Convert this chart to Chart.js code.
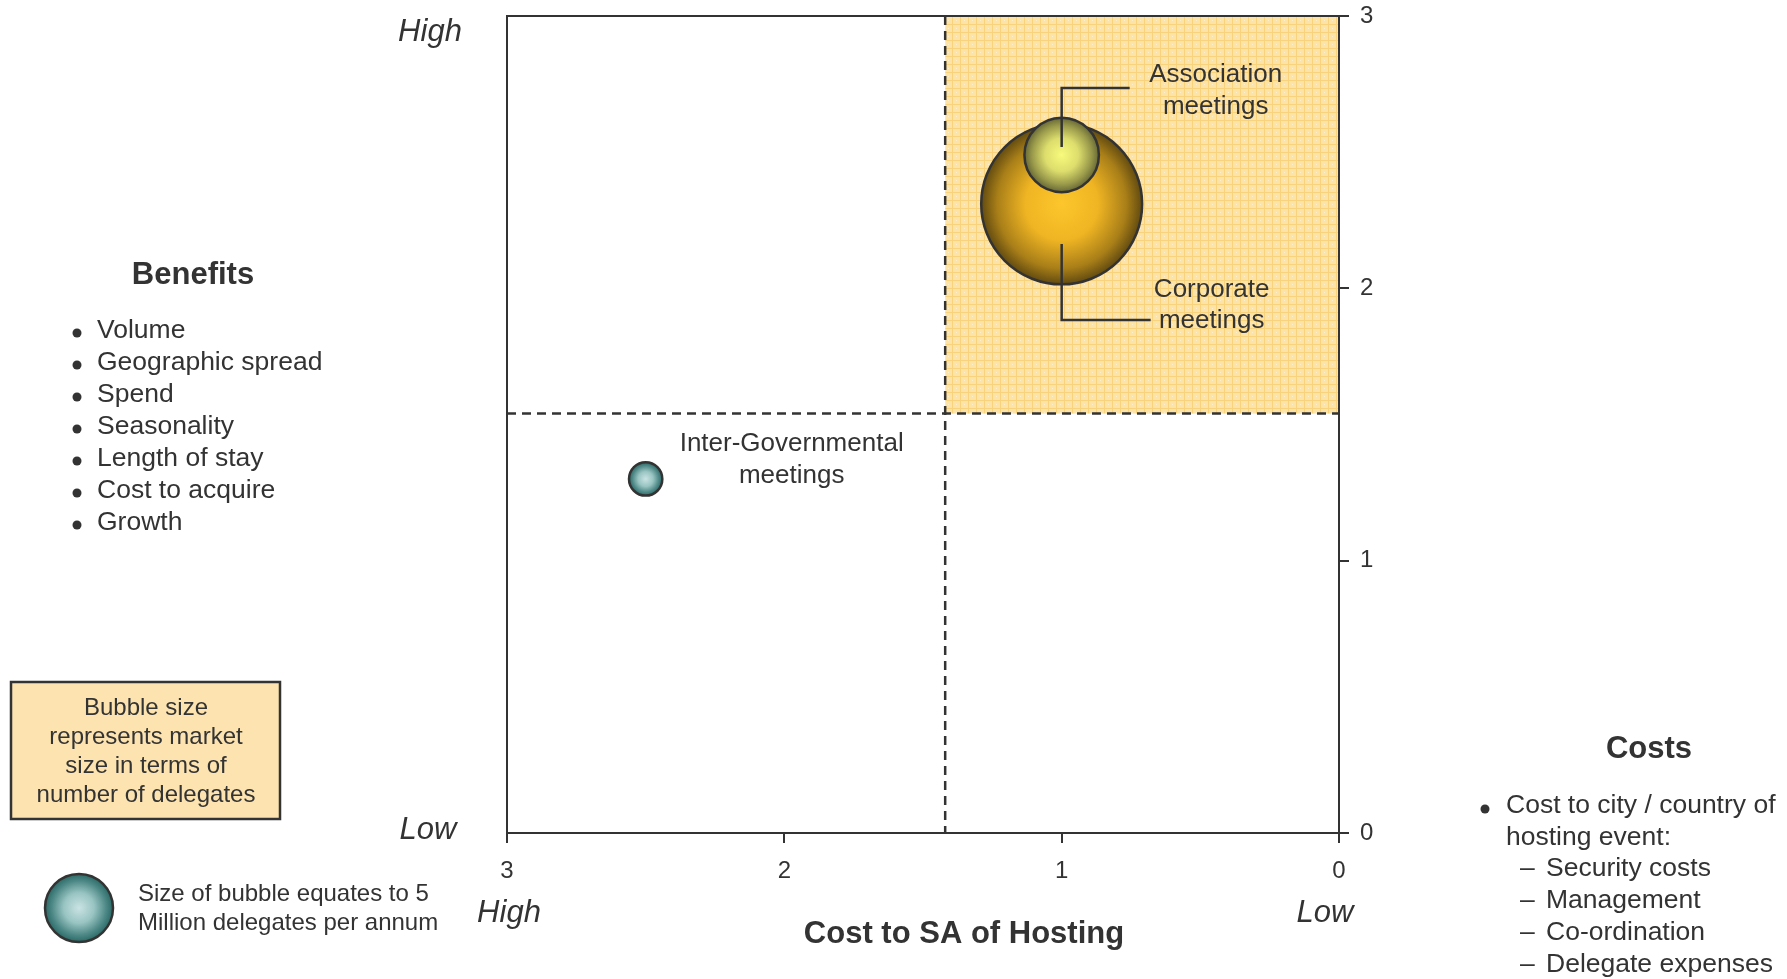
<!DOCTYPE html>
<html>
<head>
<meta charset="utf-8">
<script src="https://cdn.jsdelivr.net/npm/chart.js@4.4.1/dist/chart.umd.min.js"></script>
<style>
  body { margin: 0; background: #fff; }
  canvas { display: block; }
</style>
</head>
<body>
<canvas id="matrixChart" width="1787" height="979"></canvas>
<script>
// market segments, cost (x, reversed) and benefit (y) scores, size in million delegates
const segments = ['Corporate meetings', 'Association meetings', 'Inter-Governmental meetings'];
const costScores = [1.0, 1.0, 2.5];
const benefitScores = [2.31, 2.49, 1.30];
const delegatesMillions = [28, 6, 1.2];

const xTicks = [0, 1, 2, 3];
const yTicks = [0, 1, 2, 3];
const costSplit = 1.42;     // dashed vertical divider
const benefitSplit = 1.54;  // dashed horizontal divider
const legendMillions = 5;

const benefitsList = ['Volume', 'Geographic spread', 'Spend', 'Seasonality', 'Length of stay', 'Cost to acquire', 'Growth'];
const costsHead = ['Cost to city / country of', 'hosting event:'];
const costsSub = ['Security costs', 'Management', 'Co-ordination', 'Delegate expenses'];
const boxLines = ['Bubble size', 'represents market', 'size in terms of', 'number of delegates'];
const legendLines = ['Size of bubble equates to 5', 'Million delegates per annum'];

const FONT = '"Liberation Sans", Arial, sans-serif';
const INK = '#333333';
const LEGEND_R = 34; // pixel radius of the 5 million legend bubble

// big bubbles would otherwise push the chart area down (auto overflow padding)
Chart.registry.getController('bubble').prototype.getMaxOverflow = function () { return 0; };

function radiusFor(m) {
    return LEGEND_R * Math.sqrt(m / legendMillions);
}

const points = segments.map((s, i) => ({
    x: costScores[i],
    y: benefitScores[i],
    r: radiusFor(delegatesMillions[i])
}));

const gradStops = [
    [[0, '#fcc62c'], [0.45, '#f0b523'], [0.8, '#a97f18'], [1, '#624b10']],   // corporate
    [[0, '#f8fa7c'], [0.45, '#dcdd6c'], [0.8, '#98984a'], [1, '#666735']],   // association
    [[0, '#cae3e3'], [0.45, '#98c4c2'], [0.8, '#4d8886'], [1, '#2a6a67']]    // inter-gov
];
const tealStops = gradStops[2];

function makeGradient(ctx, cx, cy, r, stops) {
    const g = ctx.createRadialGradient(cx, cy, 0, cx, cy, r);
    stops.forEach(s => g.addColorStop(s[0], s[1]));
    return g;
}

function bubbleFill(context) {
    const chart = context.chart;
    const stops = gradStops[context.dataIndex] || tealStops;
    if (!chart.chartArea || !context.raw) return stops[1][1];
    const cx = chart.scales.x.getPixelForValue(context.raw.x);
    const cy = chart.scales.y.getPixelForValue(context.raw.y);
    return makeGradient(chart.ctx, cx, cy, context.raw.r, stops);
}

function makePattern() {
    const c = document.createElement('canvas');
    c.width = 8; c.height = 8;
    const p = c.getContext('2d');
    p.fillStyle = '#fde3a6';
    p.fillRect(0, 0, 8, 8);
    p.fillStyle = '#f8d27c';
    p.fillRect(0, 0, 8, 1);
    p.fillRect(0, 0, 1, 8);
    p.fillStyle = '#fff0cc';
    p.fillRect(4, 4, 1, 1);
    return p.createPattern(c, 'repeat');
}

const backdrop = {
    id: 'backdrop',
    beforeDatasetsDraw(chart) {
        const { ctx, chartArea: a, scales: { x, y } } = chart;
        const sx = x.getPixelForValue(costSplit);
        const sy = y.getPixelForValue(benefitSplit);
        ctx.save();
        ctx.fillStyle = makePattern();
        ctx.fillRect(sx, a.top, a.right - sx, sy - a.top);

        ctx.strokeStyle = INK;
        ctx.lineWidth = 2;
        ctx.strokeRect(a.left, a.top, a.right - a.left, a.bottom - a.top);

        ctx.setLineDash([9, 6]);
        ctx.lineWidth = 2.5;
        ctx.beginPath();
        ctx.moveTo(sx, a.top);
        ctx.lineTo(sx, a.bottom);
        ctx.moveTo(a.left, sy);
        ctx.lineTo(a.right, sy);
        ctx.stroke();
        ctx.restore();
    }
};

function centerText(ctx, lines, cx, ys) {
    ctx.textAlign = 'center';
    lines.forEach((t, i) => ctx.fillText(t, cx, ys[i]));
}

const annotations = {
    id: 'annotations',
    afterDatasetsDraw(chart) {
        const { ctx, scales: { x, y } } = chart;
        const px = i => x.getPixelForValue(costScores[i]);
        const py = i => y.getPixelForValue(benefitScores[i]);
        ctx.save();
        ctx.strokeStyle = INK;
        ctx.lineWidth = 2.5;
        ctx.fillStyle = INK;
        ctx.textBaseline = 'middle';
        ctx.font = '26px ' + FONT;

        // association meetings
        let cx = px(1), cy = py(1);
        ctx.beginPath();
        ctx.moveTo(cx, cy - 8);
        ctx.lineTo(cx, cy - 67);
        ctx.lineTo(cx + 68, cy - 67);
        ctx.stroke();
        centerText(ctx, ['Association', 'meetings'], cx + 154, [cy - 80, cy - 48]);

        // corporate meetings
        cx = px(0); cy = py(0);
        ctx.beginPath();
        ctx.moveTo(cx, cy + 40);
        ctx.lineTo(cx, cy + 116);
        ctx.lineTo(cx + 89, cy + 116);
        ctx.stroke();
        centerText(ctx, ['Corporate', 'meetings'], cx + 150, [cy + 86, cy + 117]);

        // inter-governmental
        cx = px(2); cy = py(2);
        centerText(ctx, ['Inter-Governmental', 'meetings'], cx + 146, [cy - 35, cy - 3]);
        ctx.restore();
    },
    afterDraw(chart) {
        const ctx = chart.ctx;
        ctx.save();
        ctx.fillStyle = INK;
        ctx.textBaseline = 'middle';

        // axis end labels
        ctx.font = 'italic 31px ' + FONT;
        ctx.textAlign = 'center';
        ctx.fillText('High', 430, 32);
        ctx.fillText('Low', 428, 830);
        ctx.fillText('High', 509, 913);
        ctx.fillText('Low', 1325, 913);

        ctx.font = 'bold 31px ' + FONT;
        ctx.fillText('Cost to SA of Hosting', 964, 934);

        // benefits list
        ctx.fillText('Benefits', 193, 275);
        ctx.font = '26.5px ' + FONT;
        ctx.textAlign = 'left';
        benefitsList.forEach((t, i) => {
            const yy = 331 + i * 32;
            ctx.beginPath();
            ctx.arc(77, yy + 2, 4.5, 0, Math.PI * 2);
            ctx.fill();
            ctx.fillText(t, 97, yy);
        });

        // costs list
        ctx.font = 'bold 31px ' + FONT;
        ctx.textAlign = 'center';
        ctx.fillText('Costs', 1649, 749);
        ctx.font = '26.5px ' + FONT;
        ctx.textAlign = 'left';
        ctx.beginPath();
        ctx.arc(1485, 809, 4.5, 0, Math.PI * 2);
        ctx.fill();
        costsHead.forEach((t, i) => ctx.fillText(t, 1506, 806 + i * 32));
        costsSub.forEach((t, i) => {
            ctx.fillText('\u2013', 1520, 869 + i * 32);
            ctx.fillText(t, 1546, 869 + i * 32);
        });

        // bubble size box
        ctx.fillStyle = '#fce3b0';
        ctx.fillRect(11, 682, 269, 137);
        ctx.strokeStyle = INK;
        ctx.lineWidth = 2.5;
        ctx.strokeRect(11, 682, 269, 137);
        ctx.fillStyle = INK;
        ctx.font = '24px ' + FONT;
        centerText(ctx, boxLines, 146, [708, 737, 766, 795]);

        // legend bubble
        ctx.beginPath();
        ctx.arc(79, 908, radiusFor(legendMillions), 0, Math.PI * 2);
        ctx.fillStyle = makeGradient(ctx, 79, 908, LEGEND_R, tealStops);
        ctx.fill();
        ctx.lineWidth = 2.5;
        ctx.stroke();
        ctx.fillStyle = INK;
        ctx.textAlign = 'left';
        legendLines.forEach((t, i) => ctx.fillText(t, 138, 894 + i * 29));
        ctx.restore();
    }
};

const ctx = document.getElementById('matrixChart').getContext('2d');
new Chart(ctx, {
    type: 'bubble',
    data: {
        datasets: [{
            label: 'Segments',
            data: points,
            backgroundColor: bubbleFill,
            borderColor: INK,
            borderWidth: 2.5
        }]
    },
    options: {
        responsive: false,
        animation: false,
        events: [],
        layout: { padding: { left: 507, top: 16, right: 398, bottom: 86 } },
        plugins: {
            legend: { display: false },
            tooltip: { enabled: false }
        },
        scales: {
            x: {
                type: 'linear',
                reverse: true,
                min: 0,
                max: 3,
                afterBuildTicks: s => { s.ticks = xTicks.map(v => ({ value: v })); },
                afterFit: s => { s.height = 60; s.paddingLeft = 0; s.paddingRight = 0; },
                grid: { drawOnChartArea: false, tickLength: 10, color: INK, lineWidth: 2 },
                border: { color: INK, width: 2 },
                ticks: { color: INK, font: { family: FONT, size: 24 }, padding: 14, maxRotation: 0 }
            },
            y: {
                type: 'linear',
                position: 'right',
                min: 0,
                max: 3,
                afterBuildTicks: s => { s.ticks = yTicks.map(v => ({ value: v })); },
                afterFit: s => { s.width = 50; s.paddingTop = 0; s.paddingBottom = 0; },
                grid: { drawOnChartArea: false, tickLength: 10, color: INK, lineWidth: 2 },
                border: { color: INK, width: 2 },
                ticks: { color: INK, font: { family: FONT, size: 24 }, padding: 11 }
            }
        }
    },
    plugins: [backdrop, annotations]
});
</script>
</body>
</html>
